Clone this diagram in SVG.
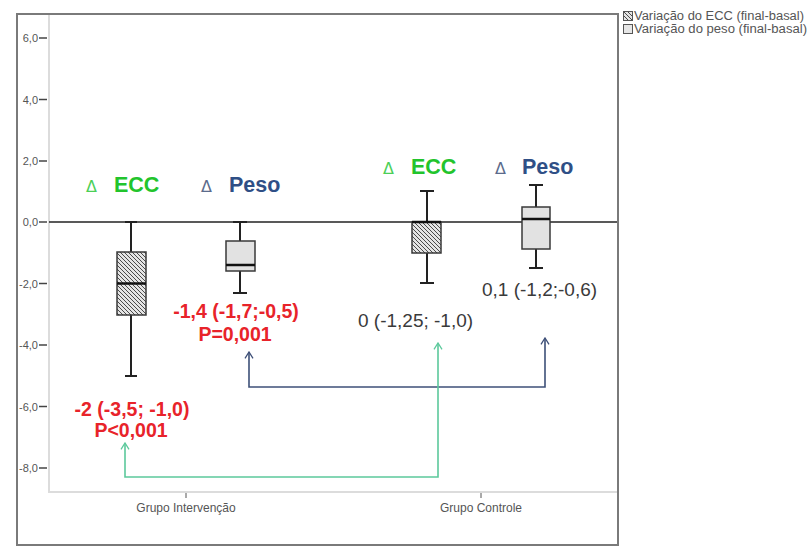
<svg xmlns="http://www.w3.org/2000/svg" width="811" height="549" viewBox="0 0 811 549">
  <style>
    .tick { font-family: "Liberation Sans", Arial, sans-serif; font-size: 11px; fill: #555; text-anchor: end; }
    .cat { font-family: "Liberation Sans", Arial, sans-serif; font-size: 12px; fill: #555; text-anchor: middle; }
    .leg { font-family: "Liberation Sans", Arial, sans-serif; font-size: 12px; fill: #555; }
    .delta { font-family: "DejaVu Sans", sans-serif; font-size: 16px; }
    .hd { font-family: "Liberation Sans", Arial, sans-serif; font-size: 21.5px; font-weight: bold; }
    .red { font-family: "Liberation Sans", Arial, sans-serif; font-size: 19.5px; font-weight: bold; fill: #e8232a; text-anchor: middle; }
    .val { font-family: "Liberation Sans", Arial, sans-serif; font-size: 19px; fill: #3a3a3a; }
    .box { stroke: #3a3a3a; stroke-width: 1.5; }
    .whisk { stroke: #222; stroke-width: 2; fill: none; }
    .med { stroke: #111; stroke-width: 2.5; }
  </style>
  <defs>
    <pattern id="hatch" patternUnits="userSpaceOnUse" width="4" height="4">
      <rect width="4" height="4" fill="#e4e4e4"/>
      <path d="M-1,-1 L5,5 M-1,3 L1,5 M3,-1 L5,1" stroke="#4a4a4a" stroke-width="1"/>
    </pattern>
    <marker id="headBlue" viewBox="0 0 10 12" refX="9" refY="6" markerWidth="8" markerHeight="11" markerUnits="userSpaceOnUse" orient="auto-start-reverse">
      <path d="M1,1 L9,6 L1,11" fill="none" stroke="#3e5078" stroke-width="1.6"/>
    </marker>
    <marker id="headGreen" viewBox="0 0 10 12" refX="9" refY="6" markerWidth="8" markerHeight="11" markerUnits="userSpaceOnUse" orient="auto-start-reverse">
      <path d="M1,1 L9,6 L1,11" fill="none" stroke="#5cc99c" stroke-width="1.6"/>
    </marker>
  </defs>

  <rect width="811" height="549" fill="#fff"/>

  <!-- chart frame and plot area -->
  <g id="frame">
    <rect x="17" y="14" width="601" height="531" fill="none" stroke="#7a7a7a" stroke-width="2"/>
    <path d="M49,15 V492 H617" fill="none" stroke="#dcdcdc" stroke-width="2"/>
  </g>

  <!-- y axis -->
  <g id="y-axis">
    <g stroke="#444" stroke-width="1.5">
      <line x1="39" y1="38" x2="47" y2="38"/>
      <line x1="39" y1="99.5" x2="47" y2="99.5"/>
      <line x1="39" y1="161" x2="47" y2="161"/>
      <line x1="39" y1="222" x2="47" y2="222"/>
      <line x1="39" y1="283.5" x2="47" y2="283.5"/>
      <line x1="39" y1="345" x2="47" y2="345"/>
      <line x1="39" y1="406.5" x2="47" y2="406.5"/>
      <line x1="39" y1="468" x2="47" y2="468"/>
    </g>
    <text class="tick" x="38" y="42">6,0</text>
    <text class="tick" x="38" y="103.5">4,0</text>
    <text class="tick" x="38" y="165">2,0</text>
    <text class="tick" x="38" y="226">0,0</text>
    <text class="tick" x="38" y="287.5">-2,0</text>
    <text class="tick" x="38" y="349">-4,0</text>
    <text class="tick" x="38" y="410.5">-6,0</text>
    <text class="tick" x="38" y="472">-8,0</text>
  </g>

  <!-- x axis -->
  <g id="x-axis">
    <line x1="186" y1="493" x2="186" y2="498" stroke="#555" stroke-width="1"/>
    <line x1="481" y1="493" x2="481" y2="498" stroke="#555" stroke-width="1"/>
    <text class="cat" x="186" y="512">Grupo Intervenção</text>
    <text class="cat" x="481" y="512">Grupo Controle</text>
  </g>

  <!-- zero reference line -->
  <line id="zero-line" x1="49" y1="222" x2="617" y2="222" stroke="#222" stroke-width="1.5"/>

  <!-- box plots -->
  <g id="box-int-ecc">
    <path class="whisk" d="M131,222 V252 M131,315 V376 M125,222 H137 M125,376 H137"/>
    <rect class="box" x="117" y="252" width="29" height="63" fill="url(#hatch)"/>
    <line class="med" x1="117" y1="283.5" x2="146" y2="283.5"/>
  </g>
  <g id="box-int-peso">
    <path class="whisk" d="M240,222 V241 M240,271 V293 M233,222 H247 M233,293 H247"/>
    <rect class="box" x="226" y="241" width="29" height="30" fill="#e2e2e2"/>
    <line class="med" x1="226" y1="265" x2="255" y2="265"/>
  </g>
  <g id="box-ctl-ecc">
    <path class="whisk" d="M427,191 V222 M427,253 V283 M420,191 H434 M420,283 H434"/>
    <rect class="box" x="412" y="222" width="29" height="31" fill="url(#hatch)"/>
    <line class="med" x1="412" y1="222" x2="441" y2="222"/>
  </g>
  <g id="box-ctl-peso">
    <path class="whisk" d="M536,185 V207 M536,249 V268 M529,185 H543 M529,268 H543"/>
    <rect class="box" x="522" y="207" width="28" height="42" fill="#e2e2e2"/>
    <line class="med" x1="522" y1="219" x2="550" y2="219"/>
  </g>

  <!-- series headings -->
  <g id="head-int-ecc">
    <text class="delta" x="86" y="192" fill="#4ccf57">Δ</text>
    <text class="hd" x="114" y="192" fill="#22c42c">ECC</text>
  </g>
  <g id="head-int-peso">
    <text class="delta" x="201" y="192" fill="#5b6b8c">Δ</text>
    <text class="hd" x="229" y="192" fill="#2f4f86">Peso</text>
  </g>
  <g id="head-ctl-ecc">
    <text class="delta" x="383" y="174" fill="#4ccf57">Δ</text>
    <text class="hd" x="411" y="174" fill="#22c42c">ECC</text>
  </g>
  <g id="head-ctl-peso">
    <text class="delta" x="495" y="174" fill="#5b6b8c">Δ</text>
    <text class="hd" x="522" y="174" fill="#2f4f86">Peso</text>
  </g>

  <!-- summary values -->
  <g id="val-int-peso">
    <text class="red" x="236" y="318">-1,4 (-1,7;-0,5)</text>
    <text class="red" x="235" y="341">P=0,001</text>
  </g>
  <g id="val-int-ecc">
    <text class="red" x="132" y="416">-2 (-3,5; -1,0)</text>
    <text class="red" x="131" y="437">P&lt;0,001</text>
  </g>
  <g id="val-ctl-ecc">
    <text class="val" x="358" y="327">0 (-1,25; -1,0)</text>
  </g>
  <g id="val-ctl-peso">
    <text class="val" x="482" y="296">0,1 (-1,2;-0,6)</text>
  </g>

  <!-- comparison connectors -->
  <g id="connectors" fill="none" stroke-width="1.6">
    <path d="M249,352 V387 H545 V338" stroke="#3e5078" marker-start="url(#headBlue)" marker-end="url(#headBlue)"/>
    <path d="M125,443 V477 H438 V343" stroke="#5cc99c" marker-start="url(#headGreen)" marker-end="url(#headGreen)"/>
  </g>

  <!-- legend -->
  <g id="legend">
    <rect x="623.5" y="11.5" width="9" height="9" fill="url(#hatch)" stroke="#555" stroke-width="1"/>
    <text class="leg" x="634" y="20" textLength="170" lengthAdjust="spacingAndGlyphs">Variação do ECC (final-basal)</text>
    <rect x="623.5" y="24.5" width="9" height="9" fill="#e6e6e6" stroke="#555" stroke-width="1"/>
    <text class="leg" x="634" y="33" textLength="173" lengthAdjust="spacingAndGlyphs">Variação do peso (final-basal)</text>
  </g>
</svg>
